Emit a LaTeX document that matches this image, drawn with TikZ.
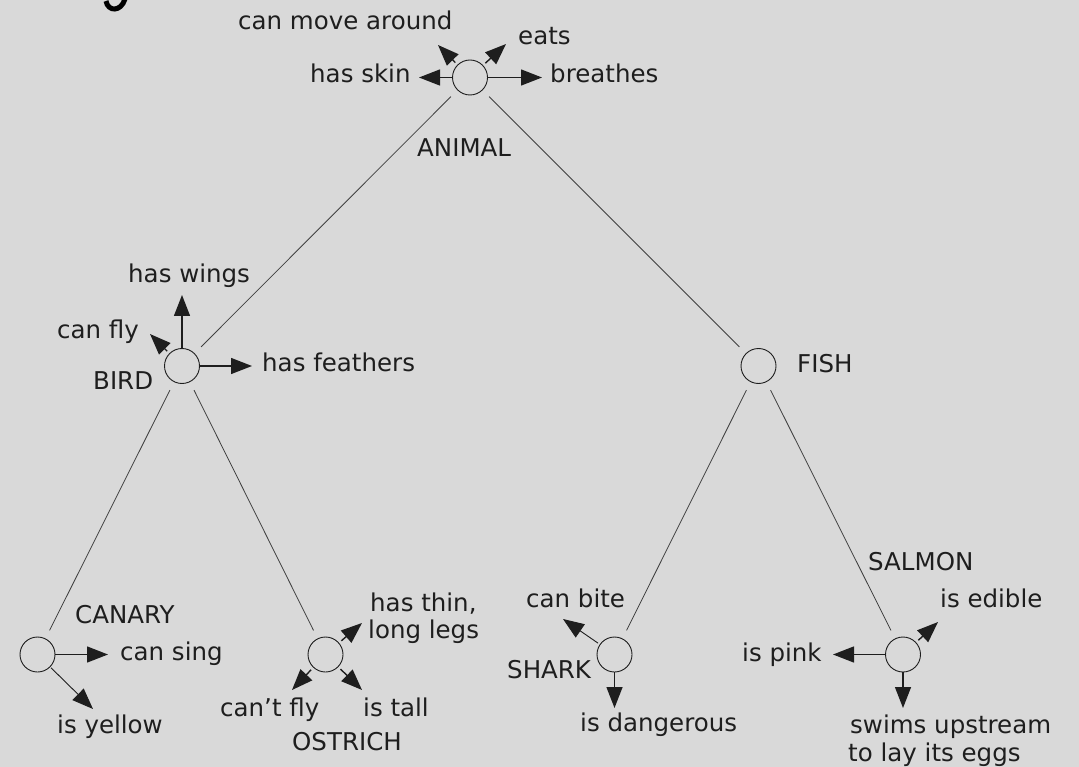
\documentclass[tikz,border=0pt]{standalone}
\usepackage{fontspec}
\setmainfont{DejaVu Sans}
\usetikzlibrary{arrows.meta}
\definecolor{bg}{RGB}{217,217,217}
\definecolor{ink}{RGB}{30,30,30}
\begin{document}
\begin{tikzpicture}[x=1pt,y=-1pt,
  every node/.style={font=\fontsize{24.5}{28}\selectfont, text=ink, inner sep=0pt},
  concept/.style={circle,draw=ink,line width=0.9pt,minimum size=35pt,inner sep=0pt},
  link/.style={draw=black!75,line width=0.8pt,shorten >=9pt,shorten <=9pt},
  prop/.style={draw=ink,line width=1.4pt,-{Triangle[length=21pt,width=16pt]},shorten <=2pt},
  lbl/.style={anchor=base west}]
\fill[bg] (0,0) rectangle (1079,767);
\useasboundingbox (0,0) rectangle (1079,767);
% fragment of a cut-off heading
\draw[line width=5pt,black] (106,1) .. controls (108,12) and (121,12) .. (125,-1);

% concepts
\node[concept] (animal)  at (470,77.5) {};
\node[concept] (bird)    at (182,366) {};
\node[concept] (fish)    at (758.5,366) {};
\node[concept] (canary)  at (37.5,654.5) {};
\node[concept] (ostrich) at (325.5,654.5) {};
\node[concept] (shark)   at (614.5,654.5) {};
\node[concept] (salmon)  at (903,654.5) {};

% hierarchy links
\draw[link] (animal) -- (bird);
\draw[link] (animal) -- (fish);
\draw[link] (bird) -- (canary);
\draw[link] (bird) -- (ostrich);
\draw[link] (fish) -- (shark);
\draw[link] (fish) -- (salmon);

% concept names
\node[lbl] (nanimal)  at (417,157) {ANIMAL};
\node[lbl] (nbird)    at (93,389) {BIRD};
\node[lbl] (nfish)    at (797,372) {FISH};
\node[lbl] (ncanary)  at (75,623) {CANARY};
\node[lbl] (nostrich) at (292,750) {OSTRICH};
\node[lbl] (nshark)   at (507,678) {SHARK};
\node[lbl] (nsalmon)  at (868,570) {SALMON};

% property labels
\node[lbl] (lmove)  at (238,30) {can move around};
\node[lbl] (leats)  at (518,45) {eats};
\node[lbl] (lskin)  at (310,83) {has skin};
\node[lbl] (lbreat) at (550,83) {breathes};
\node[lbl] (lwings) at (128,283) {has wings};
\node[lbl] (lfly)   at (57,338) {can fly};
\node[lbl] (lfeath) at (262,371) {has feathers};
\node[lbl] (lsing)  at (120,660) {can sing};
\node[lbl] (lyell)  at (57,733) {is yellow};
\node[lbl] (lthinA) at (370,611) {has thin,};
\node[lbl] (lthinB) at (368,638) {long legs};
\node[lbl] (lcant)  at (220,716) {can’t fly};
\node[lbl] (ltall)  at (363,716) {is tall};
\node[lbl] (lbite)  at (526,607) {can bite};
\node[lbl] (ldang)  at (580,731) {is dangerous};
\node[lbl] (ledib)  at (940,607) {is edible};
\node[lbl] (lpink)  at (742,661) {is pink};
\node[lbl] (lswimA) at (850,733) {swims upstream};
\node[lbl] (lswimB) at (848,761) {to lay its eggs};

% arrow tips
\coordinate (tmove)  at (438,45);
\coordinate (teats)  at (506,44);
\coordinate (tskin)  at (419,77.5);
\coordinate (tbreat) at (542,77.5);
\coordinate (twings) at (182,295);
\coordinate (tfly)   at (150,334);
\coordinate (tfeath) at (252,366);
\coordinate (tsing)  at (108,654.5);
\coordinate (tyell)  at (93,709);
\coordinate (tthin)  at (362,623);
\coordinate (tcant)  at (292,690);
\coordinate (ttall)  at (362,690);
\coordinate (tbite)  at (563,619);
\coordinate (tdang)  at (614.5,708);
\coordinate (tedib)  at (938,622);
\coordinate (tpink)  at (833,654.5);
\coordinate (tswim)  at (903,708);

% property arrows
\draw[prop,shorten <=3pt] (animal) -- (tmove);
\draw[prop,shorten <=3pt] (animal) -- (teats);
\draw[prop,shorten <=0pt] (animal) -- (tskin);
\draw[prop,shorten <=0pt] (animal) -- (tbreat);
\draw[prop,shorten <=0pt] (bird) -- (twings);
\draw[prop,shorten <=3pt] (bird) -- (tfly);
\draw[prop,shorten <=0pt] (bird) -- (tfeath);
\draw[prop,shorten <=0pt] (canary) -- (tsing);
\draw[prop,shorten <=1pt,line width=0.9pt] (canary) -- (tyell);
\draw[prop,shorten <=3pt] (ostrich) -- (tthin);
\draw[prop,shorten <=3pt] (ostrich) -- (tcant);
\draw[prop,shorten <=3pt] (ostrich) -- (ttall);
\draw[prop,shorten <=2pt,line width=0.9pt] (shark) -- (tbite);
\draw[prop,shorten <=0pt] (shark) -- (tdang);
\draw[prop,shorten <=3pt] (salmon) -- (tedib);
\draw[prop,shorten <=0pt] (salmon) -- (tpink);
\draw[prop,shorten <=0pt] (salmon) -- (tswim);
\end{tikzpicture}
\end{document}
